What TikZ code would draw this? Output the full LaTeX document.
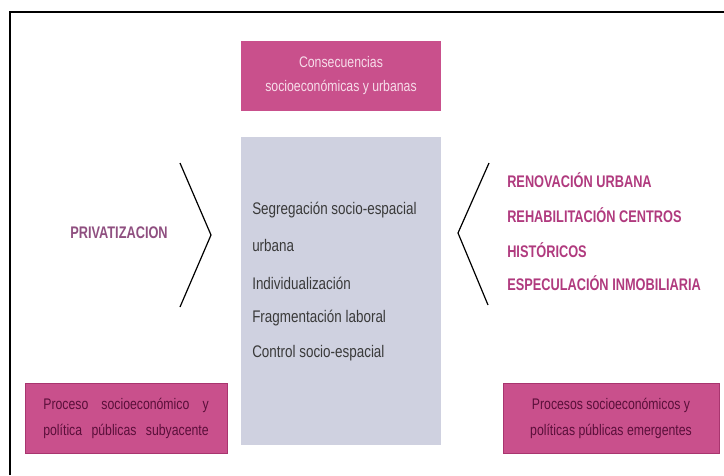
\documentclass[tikz,border=0pt]{standalone}
\usepackage{fontspec}
\setmainfont{Liberation Sans}
\newfontfamily\narrowfont[FakeStretch=0.8]{Liberation Sans}
\newfontfamily\capsfont[FakeStretch=0.76]{Liberation Sans}
\usepackage{tikz}
\definecolor{boxpink}{HTML}{C9508C}
\definecolor{boxedge}{HTML}{A8356F}
\definecolor{boxtext}{HTML}{5A0F3A}
\definecolor{toptext}{HTML}{F7DDEA}
\definecolor{midgray}{HTML}{CFD1E0}
\definecolor{itemgray}{HTML}{3A3A3A}
\definecolor{capspink}{HTML}{B03A7E}
\definecolor{privpink}{HTML}{8F4F80}
\newcommand{\itemnode}{\node[anchor=west,inner sep=0,text=itemgray,font=\narrowfont\fontsize{12.6}{14}\selectfont]}
\newcommand{\capsnode}{\node[anchor=west,inner sep=0,text=capspink,font=\capsfont\bfseries\fontsize{12.6}{14}\selectfont]}
\newcommand{\pinknode}{\node[inner sep=0,fill=boxpink,align=center,font=\narrowfont\fontsize{11.5}{19.5}\selectfont]}

\begin{document}
\begin{tikzpicture}[x=0.75pt,y=-0.75pt,chev/.style={line width=0.9pt,line join=miter}]
        \useasboundingbox (0,0) rectangle (724,475);
        \draw[line width=1.4pt] (10,475) -- (10,12) -- (724,12);
        % boxes
        \pinknode[text=toptext,minimum width=150pt,minimum height=52.5pt,font=\narrowfont\fontsize{11.5}{18}\selectfont] (cons) at (341,76) {Consecuencias\\socioecon\'omicas y urbanas};
        \node[fill=midgray,inner sep=0,minimum width=150pt,minimum height=231pt] (mid) at (341,291) {};
        \pinknode[draw=boxedge,text=boxtext,minimum width=151.5pt,minimum height=52.5pt] (sub) at (126,418) {\makebox[124pt][s]{Proceso socioecon\'omico y}\\\makebox[124pt][s]{pol\'itica p\'ublicas subyacente}};
        \pinknode[draw=boxedge,text=boxtext,minimum width=162pt,minimum height=52.5pt] (emer) at (611,418) {Procesos socioecon\'omicos y\\pol\'iticas p\'ublicas emergentes};
        % center list
        \itemnode (seg) at (252,210) {Segregaci\'on socio-espacial};
        \itemnode (urb) at (252,245) {urbana};
        \itemnode (ind) at (252,283) {Individualizaci\'on};
        \itemnode (fra) at (252,318) {Fragmentaci\'on laboral};
        \itemnode (con) at (252,353) {Control socio-espacial};
        % left side
        \node[text=privpink,font=\capsfont\bfseries\fontsize{12.6}{14}\selectfont] (priv) at (119,233) {PRIVATIZACION};
        \draw[chev] (180,163) -- (211,235) -- (180,307);
        % right side
        \capsnode (ren) at (507,180) {RENOVACI\'ON URBANA};
        \capsnode (reh) at (507,215) {REHABILITACI\'ON CENTROS};
        \capsnode (his) at (507,250) {HIST\'ORICOS};
        \capsnode (esp) at (507,283) {ESPECULACI\'ON INMOBILIARIA};
        \draw[chev] (489,163) -- (458,233) -- (488,305);
      \end{tikzpicture}
\end{document}
